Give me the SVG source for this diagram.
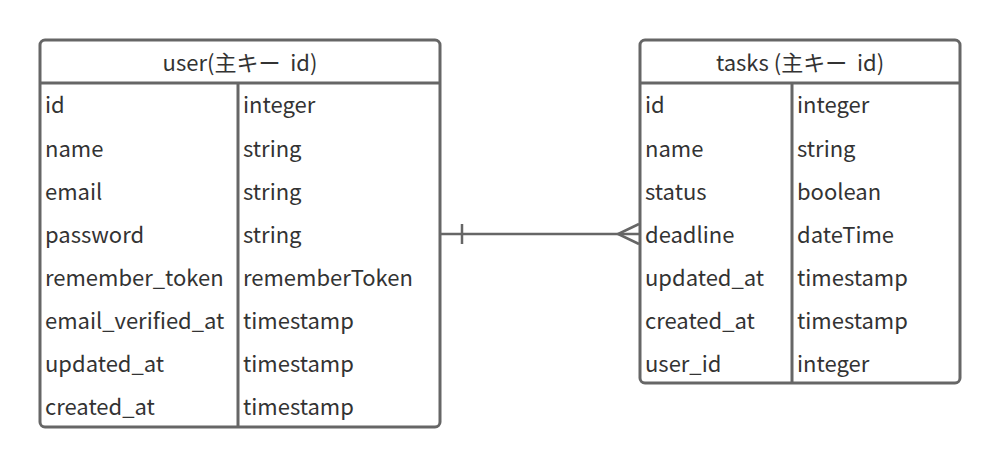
<svg xmlns="http://www.w3.org/2000/svg" width="1000" height="467" viewBox="0 0 1000 467">
<style>
.box{fill:#fff;stroke:#666;stroke-width:3}
.ln{stroke:#666;stroke-width:3;fill:none}
.t{font-family:"Noto Sans CJK JP","Noto Sans",sans-serif;font-size:22px;fill:#333}
.h{text-anchor:middle;white-space:pre}
.c{stroke:#666;stroke-width:2.5;fill:none}
</style>
<rect width="1000" height="467" fill="#fff"/>
<g id="user">
<rect class="box" x="40" y="40" width="400" height="387" rx="5"/>
<line class="ln" x1="40" y1="83" x2="440" y2="83"/>
<line class="ln" x1="238" y1="83" x2="238" y2="427"/>
<text class="t h" x="240" y="71" xml:space="preserve">user(主キー  id)</text>
<text class="t" x="45" y="113">id</text><text class="t" x="243" y="113">integer</text>
<text class="t" x="45" y="157">name</text><text class="t" x="243" y="157">string</text>
<text class="t" x="45" y="200">email</text><text class="t" x="243" y="200">string</text>
<text class="t" x="45" y="243">password</text><text class="t" x="243" y="243">string</text>
<text class="t" x="45" y="286">remember_token</text><text class="t" x="243" y="286">rememberToken</text>
<text class="t" x="45" y="329">email_verified_at</text><text class="t" x="243" y="329">timestamp</text>
<text class="t" x="45" y="372">updated_at</text><text class="t" x="243" y="372">timestamp</text>
<text class="t" x="45" y="415">created_at</text><text class="t" x="243" y="415">timestamp</text>
</g>
<g id="tasks">
<rect class="box" x="640" y="40" width="320" height="343" rx="5"/>
<line class="ln" x1="640" y1="83" x2="960" y2="83"/>
<line class="ln" x1="792" y1="83" x2="792" y2="383"/>
<text class="t h" x="800" y="71" xml:space="preserve">tasks (主キー  id)</text>
<text class="t" x="645" y="113">id</text><text class="t" x="797" y="113">integer</text>
<text class="t" x="645" y="157">name</text><text class="t" x="797" y="157">string</text>
<text class="t" x="645" y="200">status</text><text class="t" x="797" y="200">boolean</text>
<text class="t" x="645" y="243">deadline</text><text class="t" x="797" y="243">dateTime</text>
<text class="t" x="645" y="286">updated_at</text><text class="t" x="797" y="286">timestamp</text>
<text class="t" x="645" y="329">created_at</text><text class="t" x="797" y="329">timestamp</text>
<text class="t" x="645" y="372">user_id</text><text class="t" x="797" y="372">integer</text>
</g>
<g id="connectors">
<line class="c" x1="441" y1="234" x2="639" y2="234"/>
<line class="c" x1="462" y1="224" x2="462" y2="244"/>
<polyline class="c" points="639,224 618,234 639,244"/>
</g>
</svg>
